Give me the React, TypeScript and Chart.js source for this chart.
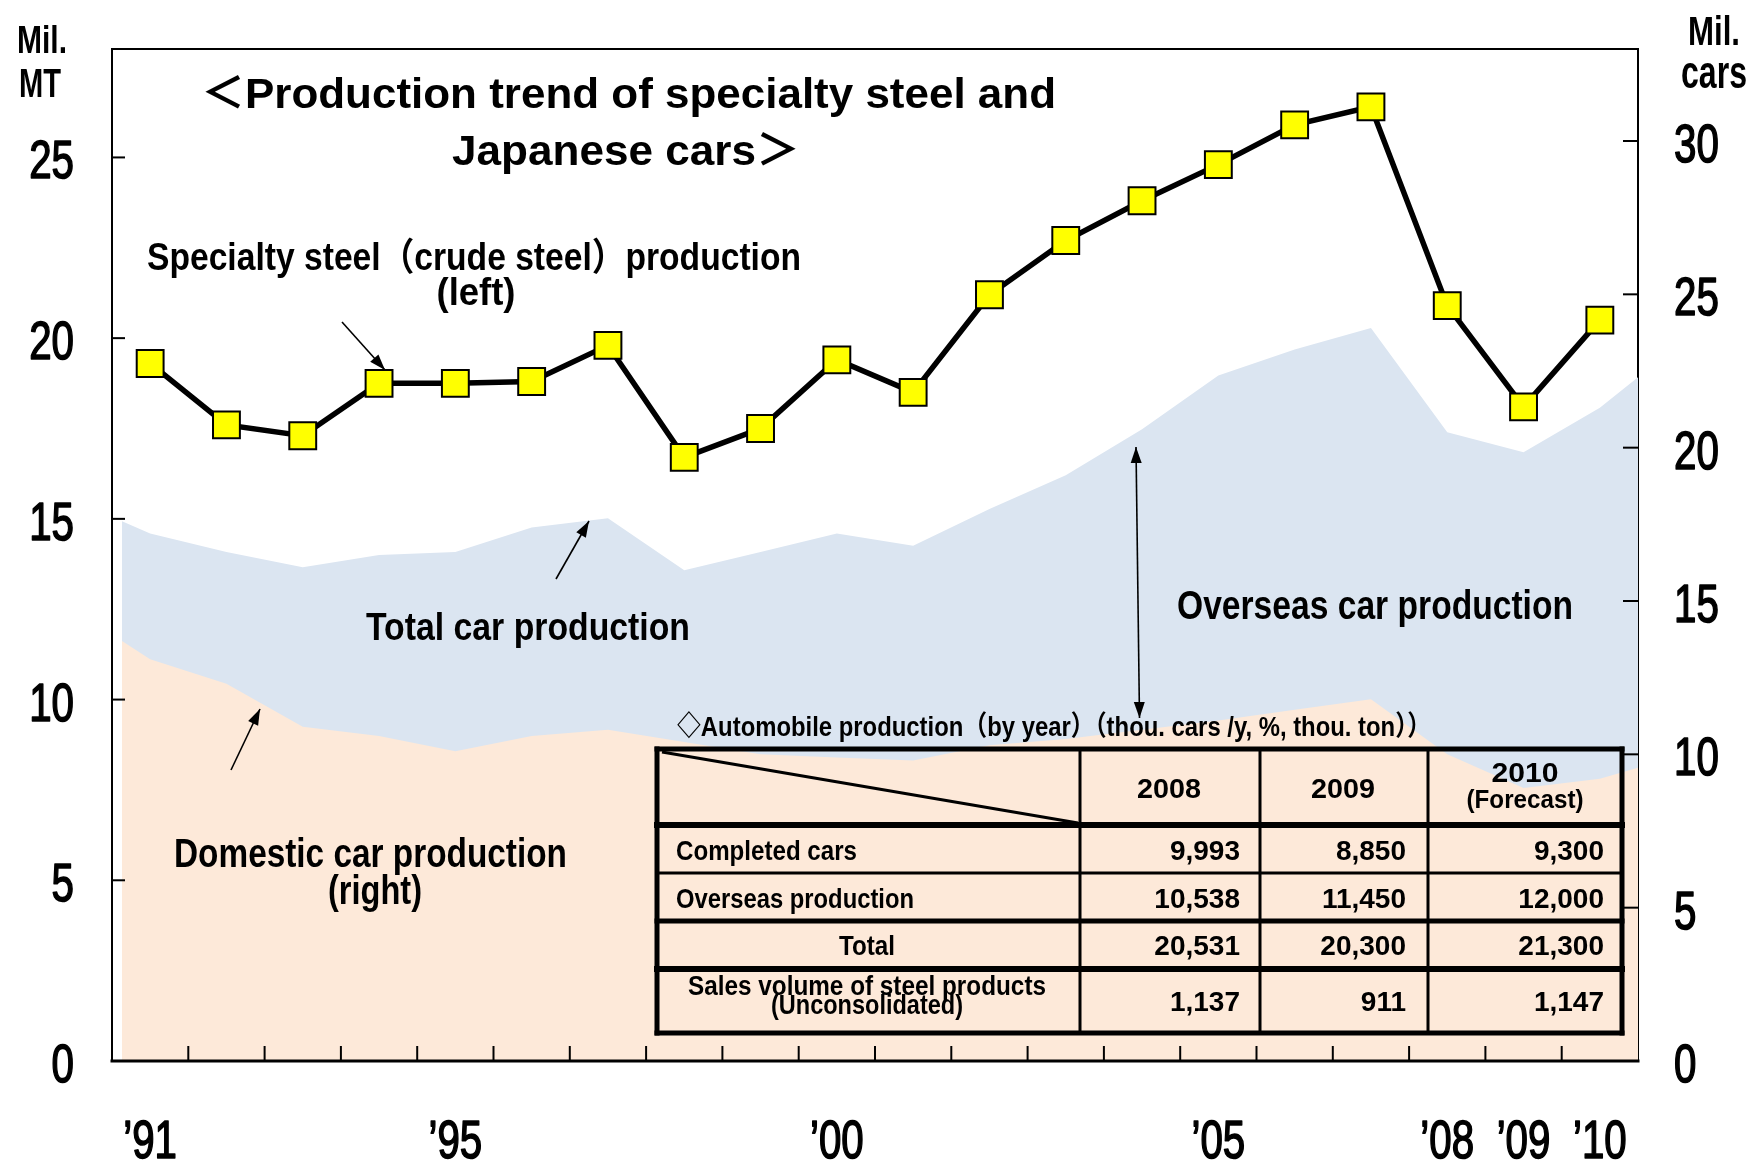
import React, { useEffect, useRef } from 'react';
import { Chart, registerables } from 'chart.js';

Chart.register(...registerables);

// ---------- data ----------
const years = ['1991', '1992', '1993', '1994', '1995', '1996', '1997', '1998', '1999', '2000',
  '2001', '2002', '2003', '2004', '2005', '2006', '2007', '2008', '2009', '2010'];
const yearTickLabels = ['’91', '', '', '', '’95', '', '', '', '', '’00',
  '', '', '', '', '’05', '', '', '’08', '’09', '’10'];

// Specialty steel (crude steel) production, Mil. MT (left axis)
const specialtySteel = [19.3, 17.6, 17.3, 18.75, 18.75, 18.8, 19.8, 16.7, 17.5, 19.4,
  18.5, 21.2, 22.7, 23.8, 24.8, 25.9, 26.4, 20.9, 18.1, 20.5];
// Total car production, Mil. cars (right axis)
const totalCarProduction = [17.2, 16.6, 16.1, 16.5, 16.6, 17.4, 17.7, 16.0, 16.6, 17.2,
  16.8, 18.0, 19.1, 20.6, 22.35, 23.2, 23.9, 20.5, 19.85, 21.3];
// Domestic car production, Mil. cars (right axis)
const domesticCarProduction = [13.1, 12.3, 10.9, 10.6, 10.1, 10.6, 10.8, 10.4, 10.0, 9.9,
  9.8, 10.3, 10.5, 10.8, 11.1, 11.45, 11.8, 10.0, 8.9, 9.2];
// area values at the left / right ends of the shaded band
const totalCarEdges = [17.6, 22.4];
const domesticCarEdges = [13.7, 9.6];
// category-index extent of the shaded areas
const areaExtent = [-0.37, 19.55];

const leftAxisRange = [0, 28];
const rightAxisRange = [0, 33];
const axisStep = 5;

// table
const tableYears = ['2008', '2009', '2010'];
const tableRowLabels = ['Completed cars', 'Overseas production', 'Total', 'Sales volume of steel products'];
const completedCars = ['9,993', '8,850', '9,300'];
const overseasProduction = ['10,538', '11,450', '12,000'];
const totalProduction = ['20,531', '20,300', '21,300'];
const steelSales = ['1,137', '911', '1,147'];

// ---------- helpers ----------
const FONT = "'Liberation Sans', Arial, 'Noto Sans CJK JP', sans-serif";

function fitText(ctx: CanvasRenderingContext2D, text: string, x: number, y: number, size: number,
  align: CanvasTextAlign, width?: number, weight = 'bold') {
  ctx.save();
  ctx.font = `${weight} ${size}px ${FONT}`;
  ctx.fillStyle = '#000';
  ctx.textBaseline = 'alphabetic';
  ctx.textAlign = align;
  const w = ctx.measureText(text).width;
  ctx.translate(x, y);
  if (width && w > 0) ctx.scale(width / w, 1);
  ctx.fillText(text, 0, 0);
  ctx.restore();
}

function tickText(ctx: CanvasRenderingContext2D, text: string, x: number, y: number, align: CanvasTextAlign) {
  ctx.save();
  ctx.font = `53px ${FONT}`;
  ctx.fillStyle = '#000';
  ctx.strokeStyle = '#000';
  ctx.lineWidth = 1.6;
  ctx.lineJoin = 'round';
  ctx.textBaseline = 'alphabetic';
  ctx.textAlign = align;
  ctx.translate(x, y);
  ctx.scale(0.76, 1);
  ctx.fillText(text, 0, 0);
  ctx.strokeText(text, 0, 0);
  ctx.restore();
}

function arrowHead(ctx: CanvasRenderingContext2D, fx: number, fy: number, tx: number, ty: number, len: number, hw: number) {
  const a = Math.atan2(ty - fy, tx - fx);
  const bx = tx - len * Math.cos(a);
  const by = ty - len * Math.sin(a);
  ctx.beginPath();
  ctx.moveTo(tx, ty);
  ctx.lineTo(bx + hw * Math.sin(a), by - hw * Math.cos(a));
  ctx.lineTo(bx - hw * Math.sin(a), by + hw * Math.cos(a));
  ctx.closePath();
  ctx.fill();
}

function arrow(ctx: CanvasRenderingContext2D, x1: number, y1: number, x2: number, y2: number, both = false) {
  ctx.save();
  ctx.strokeStyle = '#000';
  ctx.fillStyle = '#000';
  ctx.lineWidth = 1.6;
  ctx.beginPath();
  ctx.moveTo(x1, y1);
  ctx.lineTo(x2, y2);
  ctx.stroke();
  arrowHead(ctx, x1, y1, x2, y2, 16, 5.5);
  if (both) arrowHead(ctx, x2, y2, x1, y1, 16, 5.5);
  ctx.restore();
}

function line(ctx: CanvasRenderingContext2D, x1: number, y1: number, x2: number, y2: number, w: number) {
  ctx.save();
  ctx.strokeStyle = '#000';
  ctx.lineWidth = w;
  ctx.lineCap = 'square';
  ctx.beginPath();
  ctx.moveTo(x1, y1);
  ctx.lineTo(x2, y2);
  ctx.stroke();
  ctx.restore();
}

const decorPlugin = {
  id: 'decor',
  beforeDatasetsDraw(chart: any) {
    const { ctx, chartArea: a } = chart;
    line(ctx, a.right, a.top, a.right, a.bottom, 2);
  },
  afterDatasetsDraw(chart: any) {
    const { ctx, chartArea: a, scales } = chart;
    // frame
    line(ctx, a.left, a.top, a.right, a.top, 2);
    line(ctx, a.left, a.top, a.left, a.bottom, 2);
    line(ctx, a.left, a.bottom, a.right, a.bottom, 3);
    // inward ticks on x axis (between categories)
    const xa = scales.xArea;
    for (let i = 1; i < years.length; i++) {
      const px = xa.getPixelForValue(i - 0.5);
      line(ctx, px, a.bottom, px, a.bottom - 14, 2);
    }
    scales.y.ticks.forEach((t: any) => {
      if (t.value <= leftAxisRange[0]) return;
      const py = scales.y.getPixelForValue(t.value);
      line(ctx, a.left, py, a.left + 12, py, 2);
    });
    scales.y2.ticks.forEach((t: any) => {
      if (t.value <= rightAxisRange[0]) return;
      const py = scales.y2.getPixelForValue(t.value);
      line(ctx, a.right, py, a.right - 14, py, 2);
    });
  },
  afterDraw(chart: any) {
    const { ctx, chartArea: a, scales } = chart;

    // tick labels (from the chart's own scales)
    scales.y.ticks.forEach((t: any) => {
      tickText(ctx, String(t.value), a.left - 38, scales.y.getPixelForValue(t.value) + 21, 'right');
    });
    scales.y2.ticks.forEach((t: any) => {
      tickText(ctx, String(t.value), a.right + 36, scales.y2.getPixelForValue(t.value) + 21, 'left');
    });
    yearTickLabels.forEach((lab, i) => {
      if (!lab) return;
      tickText(ctx, lab, scales.x.getPixelForValue(i), a.bottom + 97, 'center');
    });

    // axis unit titles
    fitText(ctx, 'Mil.', 42, 53, 39, 'center', 50);
    fitText(ctx, 'MT', 40, 97, 40, 'center', 42);
    fitText(ctx, 'Mil.', 1714, 45, 40, 'center', 52);
    fitText(ctx, 'cars', 1714, 88, 46, 'center', 66);

    // title
    fitText(ctx, '＜Production trend of specialty steel and', 201, 108, 43, 'left', 855);
    fitText(ctx, 'Japanese cars＞', 452, 165, 43, 'left', 348);

    // annotations
    fitText(ctx, 'Specialty steel（crude steel）production', 147, 270, 38, 'left', 654);
    fitText(ctx, '(left)', 476, 305, 38, 'center', 79);
    arrow(ctx, 342, 322, 385, 370);

    fitText(ctx, 'Total car production', 366, 640, 39, 'left', 324);
    arrow(ctx, 556, 579, 589, 521);

    fitText(ctx, 'Domestic car production', 174, 867, 41, 'left', 393);
    fitText(ctx, '(right)', 375, 904, 41, 'center', 94);
    arrow(ctx, 231, 770, 260, 709);

    fitText(ctx, 'Overseas car production', 1177, 619, 41, 'left', 396);
    arrow(ctx, 1136, 447, 1139.5, 718, true);

    // table caption
    fitText(ctx, '◇Automobile production（by year）（thou. cars /y, %, thou. ton））', 677, 736, 28, 'left', 754);

    // table grid
    const L = 657, R = 1622, T = 749, B = 1033;
    const cols = [1080, 1260, 1428];
    line(ctx, L, T, R, T, 5);
    line(ctx, L, B, R, B, 5);
    line(ctx, L, T, L, B, 5);
    line(ctx, R, T, R, B, 5);
    cols.forEach((c) => line(ctx, c, T, c, B, 3));
    line(ctx, L, 825, R, 825, 6);
    line(ctx, L, 873, R, 873, 3);
    line(ctx, L, 921, R, 921, 5);
    line(ctx, L, 969, R, 969, 6);
    // diagonal header line
    ctx.save();
    ctx.strokeStyle = '#000';
    ctx.lineWidth = 3;
    ctx.beginPath();
    ctx.moveTo(662, 752);
    ctx.lineTo(1078, 823);
    ctx.stroke();
    ctx.restore();

    // header
    fitText(ctx, tableYears[0], 1169, 798, 28, 'center', 64);
    fitText(ctx, tableYears[1], 1343, 798, 28, 'center', 64);
    fitText(ctx, tableYears[2], 1525, 782, 28, 'center', 67);
    fitText(ctx, '(Forecast)', 1525, 808, 26, 'center', 117);

    // rows
    const rights = [1240, 1406, 1604];
    fitText(ctx, tableRowLabels[0], 676, 860, 28, 'left', 181);
    fitText(ctx, tableRowLabels[1], 676, 908, 28, 'left', 238);
    fitText(ctx, tableRowLabels[2], 867, 955, 28, 'center', 56);
    fitText(ctx, tableRowLabels[3], 867, 995, 28, 'center', 358);
    fitText(ctx, '(Unconsolidated)', 867, 1014, 28, 'center', 192);
    const rowsVals = [completedCars, overseasProduction, totalProduction, steelSales];
    const baselines = [860, 908, 955, 1011];
    rowsVals.forEach((vals, r) => {
      vals.forEach((v, c) => fitText(ctx, v, rights[c], baselines[r], 28, 'right'));
    });
  },
};

export default function App() {
  const canvasRef = useRef<HTMLCanvasElement | null>(null);

  useEffect(() => {
    const canvas = canvasRef.current;
    if (!canvas) return;

    const toArea = (vals: number[], edges: number[]) => [
      { x: areaExtent[0], y: edges[0] },
      ...vals.map((v, i) => ({ x: i, y: v })),
      { x: areaExtent[1], y: edges[1] },
    ];

    const chart = new Chart(canvas, {
      type: 'line',
      data: {
        labels: years,
        datasets: [
          {
            label: 'Specialty steel (crude steel) production',
            data: specialtySteel,
            xAxisID: 'x',
            yAxisID: 'y',
            borderColor: '#000000',
            borderWidth: 5.5,
            pointStyle: 'rect',
            pointRadius: 19,
            pointBackgroundColor: '#FFFF00',
            pointBorderColor: '#000000',
            pointBorderWidth: 2,
            tension: 0,
            fill: false,
            order: 0,
          },
          {
            label: 'Domestic car production',
            data: toArea(domesticCarProduction, domesticCarEdges) as any,
            xAxisID: 'xArea',
            yAxisID: 'y2',
            backgroundColor: '#FDE9D9',
            borderWidth: 0,
            pointRadius: 0,
            fill: 'origin',
            tension: 0,
            order: 1,
          },
          {
            label: 'Total car production',
            data: toArea(totalCarProduction, totalCarEdges) as any,
            xAxisID: 'xArea',
            yAxisID: 'y2',
            backgroundColor: '#DBE5F1',
            borderWidth: 0,
            pointRadius: 0,
            fill: 'origin',
            tension: 0,
            order: 2,
          },
        ],
      },
      options: {
        animation: false,
        responsive: false,
        devicePixelRatio: 1,
        layout: { padding: { top: 49, left: 0, right: 0, bottom: 0 } },
        plugins: {
          legend: { display: false },
          tooltip: { enabled: false },
          title: { display: false },
        },
        scales: {
          x: {
            type: 'category',
            offset: true,
            grid: { display: false, drawTicks: false, offset: true },
            border: { display: false },
            ticks: { display: false, autoSkip: false },
            afterFit: (s: any) => { s.height = 101; },
          },
          xArea: {
            type: 'linear',
            display: false,
            min: -0.5,
            max: years.length - 0.5,
            ticks: { display: false },
          },
          y: {
            type: 'linear',
            position: 'left',
            min: leftAxisRange[0],
            max: leftAxisRange[1],
            grid: { display: false, drawTicks: false },
            border: { display: false },
            ticks: { display: false, stepSize: axisStep, includeBounds: false },
            afterFit: (s: any) => { s.width = 112; },
          },
          y2: {
            type: 'linear',
            position: 'right',
            min: rightAxisRange[0],
            max: rightAxisRange[1],
            grid: { display: false, drawTicks: false },
            border: { display: false },
            ticks: { display: false, stepSize: axisStep, includeBounds: false },
            afterFit: (s: any) => { s.width = 115; },
          },
        },
      },
      plugins: [decorPlugin],
    } as any);

    return () => chart.destroy();
  }, []);

  return (
    <div style={{ position: 'absolute', left: 0, top: 0, width: 1753, height: 1162, background: '#fff' }}>
      <canvas ref={canvasRef} width={1753} height={1162} style={{ display: 'block' }} />
    </div>
  );
}
